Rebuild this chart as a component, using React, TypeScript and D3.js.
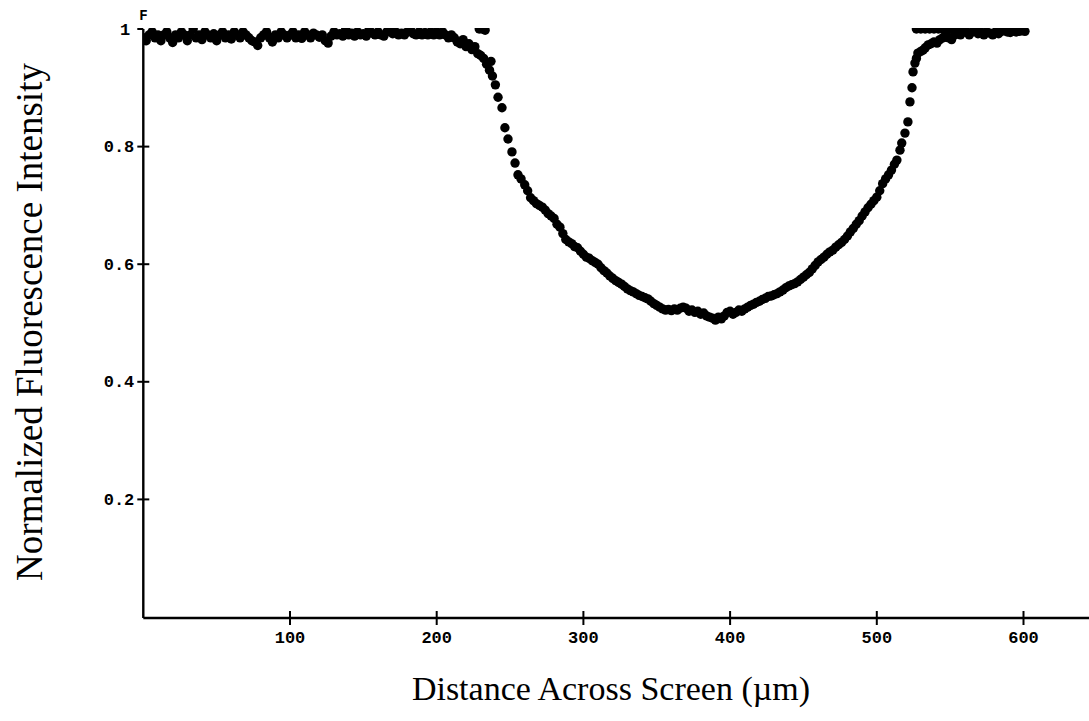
import React from "react";
import * as d3 from "d3";

// ---- data (distance in µm, normalized intensity) ----
const leftPlateau: [number, number][] = [
  [0, 0.985], [2, 0.98], [4, 0.99], [6, 0.995], [8, 0.985], [10, 0.99], [12, 0.98], [14, 0.99],
  [16, 0.995], [18, 0.985], [20, 0.977], [22, 0.99], [24, 0.985], [26, 0.995], [28, 0.99], [30, 0.98],
  [32, 0.99], [34, 1.0], [36, 0.985], [38, 0.99], [40, 0.982], [42, 0.995], [44, 0.99], [46, 0.985],
  [48, 0.992], [50, 0.98], [52, 0.99], [54, 0.995], [56, 0.985], [58, 0.99], [60, 0.983], [62, 0.995],
  [64, 0.99], [66, 0.985], [68, 0.995], [70, 0.99], [72, 0.985], [74, 0.98], [76, 0.978], [78, 0.972],
  [80, 0.985], [82, 0.99], [84, 0.995], [86, 0.985], [88, 0.978], [90, 0.99], [92, 0.985], [94, 0.995],
  [96, 0.99], [98, 0.985], [100, 0.99], [102, 0.995], [104, 0.985], [106, 0.99], [108, 0.984], [110, 0.995],
  [112, 0.99], [114, 0.985], [116, 0.993], [118, 0.99], [120, 0.986], [122, 0.99], [124, 0.98], [126, 0.976],
  [128, 0.988], [130, 0.995], [132, 0.99], [134, 0.992], [136, 0.988], [138, 1.0], [140, 0.99], [142, 0.993],
  [144, 0.988], [146, 0.995], [148, 0.99], [150, 0.992], [152, 0.988], [154, 1.0], [156, 0.993], [158, 0.99],
  [160, 0.995], [162, 0.99], [164, 0.988], [166, 0.995], [168, 1.0], [170, 0.992], [172, 0.995], [174, 0.99],
  [176, 0.993], [178, 0.99], [180, 0.995], [182, 1.0], [184, 0.992], [186, 0.99], [188, 0.995], [190, 0.99],
  [192, 0.994], [194, 0.99], [196, 0.995], [198, 0.99],
];

const descent: [number, number][] = [
  [200, 0.995], [202, 0.99], [204, 0.995], [206, 0.99], [208, 0.985], [210, 0.99], [212, 0.985],
  [214, 0.978], [216, 0.975], [218, 0.982], [220, 0.97], [222, 0.975], [224, 0.965], [226, 0.97],
  [228, 0.958], [229, 1.0], [231, 1.0], [233, 0.998], [230, 0.955], [232, 0.95], [234, 0.94],
  [236, 0.93], [237, 0.945], [238, 0.92], [240, 0.905], [241.8, 0.884], [244.5, 0.866], [246.5, 0.832],
  [248.6, 0.813], [251.3, 0.791], [253.4, 0.772], [255.4, 0.752], [257.5, 0.745], [260, 0.735],
  [262, 0.725], [264, 0.713], [266, 0.708], [268, 0.703], [270, 0.7], [272, 0.697], [274, 0.692],
  [276, 0.686], [278, 0.682], [280, 0.678], [282, 0.668], [284, 0.663], [286, 0.652], [288, 0.642],
  [290, 0.638], [292, 0.635], [294, 0.63], [296, 0.628], [298, 0.622], [300, 0.617], [302, 0.612],
  [304, 0.61], [306, 0.606], [308, 0.603], [310, 0.6], [312, 0.594], [314, 0.589], [316, 0.585],
  [318, 0.58], [320, 0.576], [322, 0.572], [324, 0.569], [326, 0.566], [328, 0.562], [330, 0.558],
  [332, 0.555], [334, 0.553], [336, 0.55], [338, 0.547], [340, 0.545], [342, 0.543], [344, 0.541],
  [346, 0.537], [348, 0.533], [350, 0.53], [352, 0.527], [354, 0.524], [356, 0.522],
];

const trough: [number, number][] = [
  [358, 0.523], [360, 0.521], [362, 0.524], [364, 0.522], [366, 0.525], [368, 0.527], [370, 0.525],
  [372, 0.52], [374, 0.522], [376, 0.518], [378, 0.52], [380, 0.515], [382, 0.517], [384, 0.512],
  [386, 0.51], [388, 0.508], [390, 0.505], [392, 0.51], [394, 0.507], [396, 0.512], [398, 0.518],
  [400, 0.52], [402, 0.515], [404, 0.518], [406, 0.522], [408, 0.52], [410, 0.524], [412, 0.527],
];

const ascent: [number, number][] = [
  [414, 0.53], [416, 0.532], [418, 0.535], [420, 0.537], [422, 0.54], [424, 0.542], [426, 0.545],
  [428, 0.546], [430, 0.548], [432, 0.55], [434, 0.553], [436, 0.556], [438, 0.56], [440, 0.563],
  [442, 0.565], [444, 0.567], [446, 0.57], [448, 0.574], [450, 0.578], [452, 0.582], [454, 0.586],
  [456, 0.592], [458, 0.598], [460, 0.604], [462, 0.608], [464, 0.612], [466, 0.617], [468, 0.621],
  [470, 0.624], [472, 0.629], [474, 0.633], [476, 0.637], [478, 0.642], [480, 0.648], [482, 0.655],
  [484, 0.661], [486, 0.668], [488, 0.674], [490, 0.682], [492, 0.689], [494, 0.696], [496, 0.702],
  [498, 0.708], [500, 0.714], [502, 0.725], [504, 0.737], [506, 0.745], [508, 0.752], [510, 0.76],
  [512, 0.77], [513.7, 0.777], [515.8, 0.794], [517, 0.806], [519.2, 0.823], [521.2, 0.842],
  [522.6, 0.876], [524, 0.9], [524.7, 0.927], [526, 0.942], [527, 0.95], [528, 0.959],
];

const rightPlateau: [number, number][] = [
  [530, 0.962], [531.5, 0.964], [533, 0.968], [535, 0.973], [537, 0.975], [539, 0.978], [541, 0.976],
  [543, 0.982], [545, 0.985], [547, 0.99], [549, 0.985], [551, 0.982], [553, 0.99], [555, 0.993],
  [557, 0.99], [559, 0.995], [561, 0.995], [563, 0.99], [565, 0.995], [567, 1.0], [569, 0.992],
  [571, 0.995], [573, 0.99], [575, 0.995], [577, 0.993], [579, 0.99], [581, 0.995], [583, 0.992],
  [585, 0.996], [587, 1.0], [589, 0.995], [591, 0.994], [593, 0.998], [595, 0.995], [597, 0.996],
  [599, 0.997], [601, 0.996],
  [527, 1.0], [530, 1.0], [533, 1.0], [536, 1.0], [539, 1.0], [542, 1.0], [545, 1.0], [548, 1.0],
  [551, 1.0], [554, 1.0], [557, 1.0],
];

const xTicks = [100, 200, 300, 400, 500, 600];
const yTicks = [0.2, 0.4, 0.6, 0.8, 1];
const yTickLabels = ["0.2", "0.4", "0.6", "0.8", "1"];
const xTitle = "Distance Across Screen (\u00b5m)";
const yTitle = "Normalized Fluorescence Intensity";
const cornerLabel = "F";

export default function App() {
  const W = 1089;
  const H = 721;
  const x = d3.scaleLinear().domain([0, 600]).range([143.3, 1023.5]);
  const y = d3.scaleLinear().domain([0, 1]).range([617, 29]);
  const points = [...leftPlateau, ...descent, ...trough, ...ascent, ...rightPlateau];
  const mono = "'Liberation Mono', 'DejaVu Sans Mono', monospace";
  const serif = "'Liberation Serif', 'Times New Roman', serif";
  const x0 = x(0);
  const yBase = y(0) + 1;

  return (
    <svg
      width={W}
      height={H}
      style={{ position: "absolute", left: 0, top: 0, background: "#fff" }}
    >
      <defs>
        <clipPath id="plotClip">
          <rect x={x0} y={y(1) - 1} width={W - x0} height={yBase - y(1) + 1} />
        </clipPath>
      </defs>
      <rect x={0} y={0} width={W} height={H} fill="#fff" />

      {/* data points */}
      <g clipPath="url(#plotClip)">
        {points.map((d, i) => (
          <circle key={i} cx={x(d[0])} cy={y(d[1])} r={4.7} fill="#000" />
        ))}
      </g>

      {/* axes */}
      <line x1={x0} x2={W} y1={yBase} y2={yBase} stroke="#000" strokeWidth={2.4} />
      <line x1={x0} x2={x0} y1={y(1)} y2={yBase} stroke="#000" strokeWidth={2.4} />

      {xTicks.map((t) => (
        <g key={t}>
          <line x1={x(t)} x2={x(t)} y1={yBase - 7} y2={yBase + 7} stroke="#000" strokeWidth={2} />
          <text
            x={x(t)}
            y={643}
            textAnchor="middle"
            fontFamily={mono}
            fontWeight="bold"
            fontSize={17}
            fill="#000"
          >
            {t}
          </text>
        </g>
      ))}

      {yTicks.map((t, i) => (
        <g key={t}>
          <line
            x1={x0 - 6}
            x2={t === 1 ? x0 : x0 + 6}
            y1={y(t)}
            y2={y(t)}
            stroke="#000"
            strokeWidth={2}
          />
          <text
            x={t === 1 ? x0 - 13 : x0 - 9}
            y={y(t) + 5.5}
            textAnchor="end"
            fontFamily={mono}
            fontWeight="bold"
            fontSize={17}
            fill="#000"
          >
            {yTickLabels[i]}
          </text>
        </g>
      ))}

      <text
        x={x0 - 4}
        y={y(1) - 9}
        fontFamily={mono}
        fontWeight="bold"
        fontSize={14}
        fill="#000"
      >
        {cornerLabel}
      </text>

      {/* titles */}
      <text
        x={611}
        y={700}
        textAnchor="middle"
        fontFamily={serif}
        fontSize={34}
        fill="#000"
      >
        {xTitle}
      </text>
      <text
        transform={`translate(42, 322) rotate(-90)`}
        textAnchor="middle"
        fontFamily={serif}
        fontSize={37}
        fill="#000"
      >
        {yTitle}
      </text>
    </svg>
  );
}
